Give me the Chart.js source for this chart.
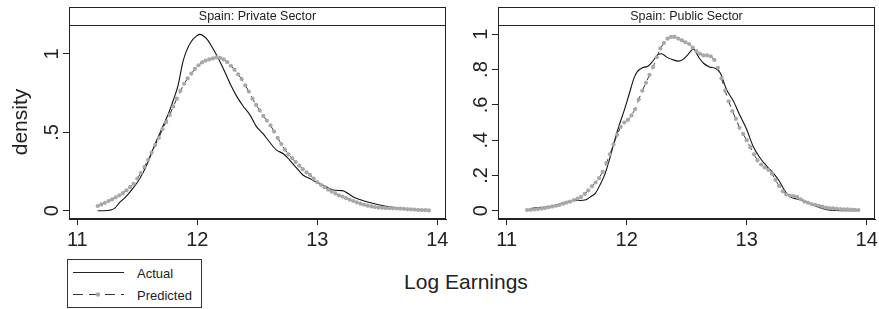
<!DOCTYPE html>
<html><head><meta charset="utf-8">
<script src="https://cdn.jsdelivr.net/npm/chart.js@4"></script>
<style>
html,body{margin:0;padding:0;background:#fff;}
body{width:879px;height:309px;position:relative;overflow:hidden;font-family:"Liberation Sans",Arial,Helvetica,sans-serif;color:#222;}
canvas{position:absolute;top:0;}
#c1{left:0;}
#c2{left:456px;}
#xtitle{position:absolute;left:366px;width:200px;top:271px;text-align:center;font-size:21px;line-height:21px;white-space:nowrap;}
#legend{position:absolute;left:67px;top:259px;width:135px;height:49px;box-sizing:border-box;border:1px solid #333;}
#legend svg{position:absolute;left:0;top:0;}
#legend span{position:absolute;left:69px;font-size:13px;line-height:13px;white-space:nowrap;}
</style>
</head><body>
<canvas id="c1" width="456" height="250"></canvas>
<canvas id="c2" width="423" height="250"></canvas>
<div id="xtitle">Log Earnings</div>
<div id="legend">
<svg width="133" height="47">
<line x1="5" y1="12.5" x2="56" y2="12.5" stroke="#222" stroke-width="1"/>
<line x1="5" y1="34.5" x2="56" y2="34.5" stroke="#333" stroke-width="1" stroke-dasharray="10,6"/>
<circle cx="30" cy="34.5" r="2.2" fill="#a8a8a8"/>
</svg>
<span style="top:6.5px">Actual</span>
<span style="top:28.5px">Predicted</span>
</div>
<script>
// ---- data ----
const panelTitles = ['Spain: Private Sector', 'Spain: Public Sector'];
const xTicks = [11, 12, 13, 14];
const xTickLabels = ['11', '12', '13', '14'];
const privYTicks = [0, 0.5, 1];
const privYTickLabels = ['0', '.5', '1'];
const pubYTicks = [0, 0.2, 0.4, 0.6, 0.8, 1];
const pubYTickLabels = ['0', '.2', '.4', '.6', '.8', '1'];
const seriesNames = ['Actual', 'Predicted'];

const privActualX = [11.17,11.22,11.27,11.31,11.35,11.40,11.45,11.50,11.55,11.60,11.64,11.68,11.72,11.76,11.80,11.84,11.88,11.91,11.95,11.99,12.02,12.06,12.09,12.13,12.18,12.23,12.28,12.33,12.38,12.44,12.49,12.55,12.60,12.66,12.72,12.77,12.83,12.88,12.95,13.00,13.05,13.10,13.15,13.21,13.26,13.30,13.36,13.42,13.52,13.63,13.74,13.85,13.93];
const privActualY = [0,0,0.003,0.015,0.05,0.085,0.13,0.18,0.245,0.33,0.41,0.48,0.55,0.62,0.705,0.80,0.95,1.02,1.08,1.112,1.125,1.11,1.085,1.035,0.965,0.885,0.80,0.728,0.67,0.61,0.54,0.49,0.44,0.387,0.362,0.323,0.27,0.228,0.20,0.18,0.162,0.142,0.13,0.128,0.108,0.088,0.07,0.055,0.036,0.021,0.011,0.004,0.001];

const pubActualX = [11.17,11.22,11.30,11.39,11.47,11.55,11.61,11.66,11.70,11.74,11.78,11.82,11.86,11.90,11.94,11.98,12.02,12.06,12.09,12.13,12.18,12.22,12.26,12.29,12.33,12.38,12.43,12.47,12.51,12.555,12.60,12.64,12.69,12.74,12.78,12.83,12.89,12.94,13.00,13.05,13.11,13.17,13.22,13.27,13.32,13.36,13.42,13.48,13.53,13.58,13.63,13.67,13.75,13.83,13.93];
const pubActualY = [0.005,0.015,0.019,0.026,0.045,0.058,0.058,0.062,0.08,0.10,0.15,0.21,0.30,0.40,0.49,0.57,0.66,0.75,0.79,0.81,0.82,0.85,0.885,0.89,0.872,0.857,0.848,0.858,0.885,0.915,0.87,0.836,0.815,0.806,0.78,0.69,0.62,0.545,0.46,0.37,0.30,0.25,0.215,0.17,0.11,0.08,0.066,0.058,0.04,0.025,0.012,0.005,0.001,0,0];

const predX = [11.17,11.20,11.23,11.26,11.29,11.32,11.35,11.38,11.41,11.44,
11.47,11.50,11.53,11.56,11.59,11.62,11.65,11.68,11.71,11.74,
11.77,11.80,11.83,11.86,11.89,11.92,11.95,11.98,12.01,12.04,
12.07,12.10,12.13,12.16,12.19,12.22,12.25,12.28,12.31,12.34,
12.37,12.40,12.43,12.46,12.49,12.52,12.55,12.58,12.61,12.64,
12.67,12.70,12.73,12.76,12.79,12.82,12.85,12.88,12.91,12.94,
12.97,13.00,13.03,13.06,13.09,13.12,13.15,13.18,13.21,13.24,
13.27,13.30,13.33,13.36,13.39,13.42,13.45,13.48,13.51,13.54,
13.57,13.60,13.63,13.66,13.69,13.72,13.75,13.78,13.81,13.84,
13.87,13.90,13.93];

const privPredY = [0.030,0.040,0.050,0.062,0.072,0.085,0.098,0.112,0.130,0.150,
0.172,0.205,0.240,0.280,0.325,0.370,0.420,0.465,0.520,0.565,
0.610,0.665,0.715,0.765,0.810,0.845,0.875,0.905,0.928,0.946,
0.958,0.965,0.972,0.978,0.975,0.965,0.948,0.925,0.900,0.870,
0.840,0.800,0.760,0.715,0.675,0.640,0.605,0.575,0.545,0.505,
0.465,0.425,0.390,0.360,0.335,0.310,0.288,0.265,0.245,0.228,
0.205,0.182,0.165,0.150,0.135,0.122,0.110,0.098,0.090,0.080,
0.070,0.062,0.053,0.045,0.038,0.032,0.027,0.023,0.020,0.018,
0.017,0.016,0.015,0.014,0.013,0.012,0.010,0.008,0.007,0.005,
0.004,0.003,0.002];

const pubPredY = [0.004,0.005,0.007,0.009,0.012,0.016,0.020,0.024,0.028,0.033,
0.040,0.046,0.052,0.060,0.068,0.078,0.095,0.115,0.138,0.160,
0.185,0.220,0.270,0.320,0.375,0.430,0.475,0.500,0.515,0.540,
0.575,0.630,0.680,0.725,0.770,0.815,0.870,0.920,0.950,0.975,
0.985,0.985,0.975,0.965,0.955,0.945,0.925,0.905,0.890,0.880,
0.880,0.875,0.855,0.810,0.750,0.680,0.620,0.565,0.520,0.470,
0.435,0.400,0.360,0.320,0.285,0.262,0.245,0.232,0.210,0.175,
0.140,0.110,0.092,0.086,0.083,0.078,0.065,0.052,0.045,0.038,
0.033,0.028,0.023,0.018,0.015,0.013,0.011,0.009,0.008,0.007,
0.006,0.005,0.004];

// ---- drawing ----
const FONT = '"Liberation Sans", Arial, Helvetica, sans-serif';
const INK = '#222';

const panelPlugin = {
  id: 'panelDecor',
  afterDraw(chart, args, opts) {
    const {ctx, chartArea} = chart;
    const L = Math.round(chartArea.left) + 0.5, R = Math.round(chartArea.right) - 0.5;
    const T = Math.round(chartArea.top) + 0.5, B = Math.round(chartArea.bottom) - 0.5;
    ctx.save();
    ctx.strokeStyle = INK; ctx.lineWidth = 1;
    ctx.strokeRect(L, 7.5, R - L, T - 7.5);
    ctx.strokeRect(L, T, R - L, B - T);
    ctx.fillStyle = INK;
    ctx.font = '12.5px ' + FONT;
    ctx.textAlign = 'center'; ctx.textBaseline = 'alphabetic';
    ctx.fillText(opts.title, (L + R) / 2, 20);
    ctx.font = '20px ' + FONT;
    const ys = chart.scales.y;
    opts.yTicks.forEach((v, i) => {
      const py = ys.getPixelForValue(v);
      ctx.save();
      ctx.translate(chartArea.left - 11.5, py);
      ctx.rotate(-Math.PI / 2);
      ctx.textAlign = 'center'; ctx.textBaseline = 'alphabetic';
      ctx.fillText(opts.yLabels[i], 0, 0);
      ctx.restore();
    });
    ctx.restore();
  }
};

function makePanel(id, title, actX, actY, prdY, yTicks, yLabels, xmin, xmax, ymin, ymax, yWidth, padRight, yTitle) {
  const actual = actX.map((x, i) => ({x, y: actY[i]}));
  const pred = predX.map((x, i) => ({x, y: prdY[i]}));
  return new Chart(document.getElementById(id), {
    type: 'line',
    data: {
      datasets: [
        { label: seriesNames[1], data: pred, order: 0, borderColor: '#333', borderWidth: 1, borderDash: [7, 5],
          pointRadius: 2.1, pointBackgroundColor: '#a8a8a8', pointBorderWidth: 0, tension: 0 },
        { label: seriesNames[0], data: actual, order: 1, borderColor: '#111', borderWidth: 1.1,
          pointRadius: 0, cubicInterpolationMode: 'monotone' }
      ]
    },
    options: {
      responsive: false, animation: false, devicePixelRatio: 1,
      layout: { padding: { top: 25, right: padRight, left: 0, bottom: 0 } },
      plugins: { legend: { display: false }, tooltip: { enabled: false },
        panelDecor: { title, yTicks, yLabels } },
      scales: {
        x: {
          type: 'linear', min: xmin, max: xmax,
          afterBuildTicks: s => { s.ticks = xTicks.map(v => ({ value: v })); },
          afterFit: s => { s.height = 31; s.paddingLeft = 0; s.paddingRight = 0; },
          ticks: { callback: (v, i) => xTickLabels[i], font: { size: 20, family: FONT }, color: INK, padding: 3, maxRotation: 0, minRotation: 0 },
          grid: { drawOnChartArea: false, drawTicks: true, tickLength: 6, color: INK, lineWidth: 1 },
          border: { display: true, color: INK, width: 1 }
        },
        y: {
          type: 'linear', min: ymin, max: ymax,
          afterBuildTicks: s => { s.ticks = yTicks.map(v => ({ value: v })); },
          afterFit: s => { s.width = yWidth; s.paddingTop = 0; s.paddingBottom = 0; },
          ticks: { display: false },
          grid: { drawOnChartArea: false, drawTicks: true, tickLength: 6, color: INK, lineWidth: 1 },
          border: { display: true, color: INK, width: 1 },
          title: { display: !!yTitle, text: yTitle || '', color: INK, font: { size: 21, family: FONT }, padding: { top: 8.4, bottom: 0 } }
        }
      }
    },
    plugins: [panelPlugin]
  });
}

makePanel('c1', panelTitles[0], privActualX, privActualY, privPredY, privYTicks, privYTickLabels,
  10.931, 14.0725, -0.053, 1.185, 69, 10, 'density');
makePanel('c2', panelTitles[1], pubActualX, pubActualY, pubPredY, pubYTicks, pubYTickLabels,
  10.9275, 14.069, -0.047, 1.0527, 42, 4, '');
</script>
</body></html>
